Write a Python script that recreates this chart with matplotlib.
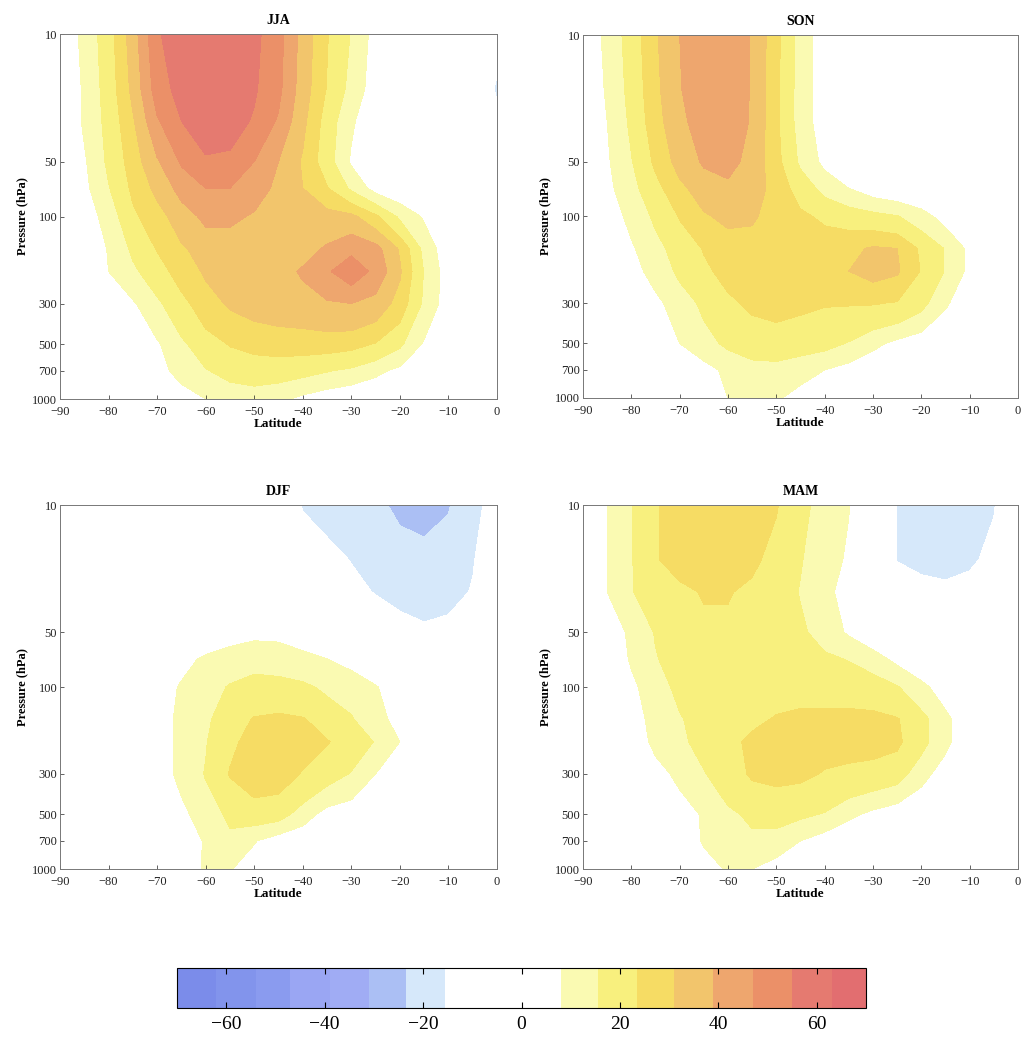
import numpy as np
import matplotlib.pyplot as plt

plt.rcParams['font.family'] = ['Liberation Serif', 'DejaVu Serif']

# grid: latitude (deg) and pressure (hPa)
lat = [-90, -85, -80, -75, -70, -65, -60, -55, -50, -45,
       -40, -35, -30, -25, -20, -15, -10, -5, 0]
pres = [10, 20, 30, 50, 70, 100, 150, 200, 300, 500, 700, 1000]

jja = [
    [2, 10, 20, 35, 54, 60, 62, 62, 57, 50, 36, 24, 15, 5, 2, 0, 0, -3, -12],
    [1, 9, 19, 33, 51, 58, 61, 61, 56, 49, 35, 23, 13, 4, 1, 0, -1, -5, -17],
    [1, 9, 18, 30, 46, 55, 59, 59, 54, 46, 33, 20, 9, 3, 1, 0, 0, -3, -12],
    [0, 7, 17, 27, 38, 48, 54, 53, 47, 39, 30, 19, 7, 3, 1, 0, 0, -1, -4],
    [0, 6, 15, 25, 33, 42, 47, 47, 43, 37, 31, 24, 14, 5, 2, 0, 0, 0, -1],
    [0, 4, 11, 22, 28, 35, 41, 41, 38, 34, 34, 34, 33, 25, 14, 7, 2, 0, 0],
    [0, 2, 8.5, 17, 24, 30, 34, 34, 33, 33, 36, 40, 45, 42, 30, 13, 3, 0, 0],
    [0, 2, 8, 14, 20, 27, 32, 34, 34, 36, 40, 46, 52, 45, 32, 15, 4, 0, 0],
    [0, 0, 2, 7, 14, 21, 28, 32, 34, 35, 36, 38, 39, 36, 28, 14, 4, 0, 0],
    [0, 0, 0, 2, 7, 14, 20, 24, 26, 27, 27, 27, 26, 23, 17, 7, 1, 0, 0],
    [0, 0, 0, 0, 5, 11, 15, 18, 19, 19, 18, 16, 14, 10, 6, 2, 0, 0, 0],
    [0, 0, 0, 0, 0, 4, 8, 11, 12, 10, 6, 3, 1, 0, 0, 0, 0, 0, 0],
]

son = [
    [2, 10, 19, 30, 39, 44, 46, 38, 26, 12, 4, 1, 0, 0, 0, 0, 0, 0, 0],
    [1, 9, 18, 29, 38.5, 44, 46, 38, 25, 12, 4, 1, 0, 0, 0, 0, 0, 0, 0],
    [1, 8, 17, 28, 37, 43, 45, 38, 25, 12, 4, 1, 0, 0, 0, 0, 0, 0, 0],
    [0, 7, 15, 25, 34, 40, 42, 36, 26, 14, 6, 2, 0, 0, 0, 0, 0, 0, 0],
    [0, 6, 13, 21, 29, 35, 37, 35, 28, 20, 13, 8, 4, 2, 1, 0, 0, 0, 0],
    [0, 4, 10, 17, 24, 30, 33, 32, 28, 25, 22, 20, 18, 16, 11, 5, 1, 0, 0],
    [0, 2, 7, 13, 19, 24, 27, 28, 28, 28, 28, 29, 32, 31, 22, 15, 6, 1, 0],
    [0, 1, 5, 11, 17, 22, 26, 28, 28, 28, 29, 31, 34, 32, 23, 15, 6, 1, 0],
    [0, 0, 2, 6, 12, 17, 22, 25, 26, 25, 24, 24, 24, 23, 18, 9, 3, 0, 0],
    [0, 0, 0, 2, 8, 13, 17, 19, 20, 19, 18, 15, 10, 6, 3, 1, 0, 0, 0],
    [0, 0, 0, 0, 0, 5, 10, 13, 13, 11, 8, 5, 2, 0, 0, 0, 0, 0, 0],
    [0, 0, 0, 0, 0, 2, 8, 10, 9, 5, 2, 0, 0, 0, 0, 0, 0, 0, 0],
]

djf = [
    [0, 0, 0, 0, 0, 0, 0, -1, -3, -8, -16, -18, -19, -22, -25, -26, -24, -18, -12],
    [0, 0, 0, 0, 0, 0, 0, -1, -2, -6, -10, -13, -15.8, -18, -20, -21, -20, -16, -10],
    [0, 0, 0, 0, 0, 0, 0, 0, -1, -4, -7, -10, -13, -16, -18, -19, -18, -15, -8],
    [0, 0, 0, 0, 0, 0, 1, 4, 6, 6, 4, 0, -4, -8, -12, -14, -13, -9, -4],
    [0, 0, 0, 0, 1, 5, 9.5, 12, 13, 12, 10, 8, 5, 2, -4, -7, -6, -4, -2],
    [0, 0, 0, 0, 3, 9, 13, 16, 18, 18, 17, 14, 13, 8.5, 4, 0, -1, -1, 0],
    [0, 0, 0, 0, 4, 10, 14, 20, 24, 25, 24, 20, 16, 11, 5, 1, 0, 0, 0],
    [0, 0, 0, 0, 4, 10, 15, 22, 26, 27, 26, 24, 20, 15, 8, 2, 0, 0, 0],
    [0, 0, 0, 0, 4, 10, 16, 24, 27.5, 27, 23, 19, 15, 8, 3, 0, 0, 0, 0],
    [0, 0, 0, 0, 1, 6, 12, 17, 20, 19, 12, 5, 3, 0, 0, 0, 0, 0, 0],
    [0, 0, 0, 0, 0, 2, 9, 14, 8.5, 4, 2, 0, 0, 0, 0, 0, 0, 0, 0],
    [0, 0, 0, 0, 0, 3, 9, 8.5, 4, 0, 0, 0, 0, 0, 0, 0, 0, 0, 0],
]

mam = [
    [0, 8, 15, 23, 26, 28, 28, 26, 24, 18, 12, 8.2, 2, -16, -19, -19, -18, -16, -8],
    [0, 8, 15, 23, 26, 28, 28, 25, 21, 16, 11, 7, 2, -16, -18, -19, -17, -13, -7],
    [0, 8, 15, 20, 22, 24, 24, 22, 20, 15, 10, 5, 1, -6, -12, -13, -12, -9, -5],
    [0, 2, 10, 16, 20, 22, 22, 21, 19, 17, 12, 7, 3, 0, -3, -5, -5, -3, -2],
    [0, 1, 9, 15, 19, 21, 21, 21, 20, 19, 17, 15, 11, 6, 2, 0, 0, 0, 0],
    [0, 0, 6, 13, 17, 19, 20, 21, 21, 21, 21, 21, 20, 16, 10, 4, 1, 0, 0],
    [0, 0, 4, 11, 15, 18, 20, 22, 24, 25, 25, 25, 25, 24, 18, 10, 2, 0, 0],
    [0, 0, 3, 10, 14, 18, 21.5, 25, 26, 26, 26, 26, 26, 25, 18, 10, 2, 0, 0],
    [0, 0, 0, 5, 10, 15, 20, 24.5, 25.5, 25, 23, 22, 21, 19, 11, 4, 0, 0, 0],
    [0, 0, 0, 0, 4, 9, 14, 17, 18, 17, 15, 10, 6, 3, 0, 0, 0, 0, 0],
    [0, 0, 0, 0, 1, 9, 12, 14, 13, 8, 4, 0, 0, 0, 0, 0, 0, 0, 0],
    [0, 0, 0, 0, 0, 4, 9, 8, 4, 0, 0, 0, 0, 0, 0, 0, 0, 0, 0],
]

# shading intervals and their colours
levels = [-70, -62, -54, -47, -39, -31, -23.5, -15.5, 8,
          15.5, 23.5, 31, 39, 47, 55, 63, 70]
colors = ['#7b8cea', '#8294ec', '#8a9bef', '#9aa6f3', '#a0acf4',
          '#abbff4', '#d6e8fa', '#ffffff',
          '#fafab2', '#f8f07e', '#f6dc64', '#f2c56c', '#eea66e',
          '#eb9068', '#e57a70', '#e26e70']

ytick_vals = [10, 50, 100, 300, 500, 700, 1000]

W, H = 1023, 1039
fig = plt.figure(figsize=(W / 100, H / 100), dpi=100)


def box(l, t, r, b):
    return [l / W, 1 - b / H, (r - l) / W, (b - t) / H]


panels = [
    ("JJA", jja, box(60, 34, 497, 399)),
    ("SON", son, box(583, 35, 1018, 398)),
    ("DJF", djf, box(60, 505, 497, 869)),
    ("MAM", mam, box(583, 505, 1018, 869)),
]

for name, field, rect in panels:
    ax = fig.add_axes(rect)
    cs = ax.contourf(lat, pres, np.array(field), levels=levels, colors=colors)
    ax.set_yscale('log')
    ax.set_xlim(-90, 0)
    ax.set_ylim(1000, 10)
    ax.set_yticks(ytick_vals)
    ax.set_yticklabels([str(v) for v in ytick_vals])
    ax.minorticks_off()
    ax.set_xticks(range(-90, 1, 10))
    ax.tick_params(direction='in', length=3, width=0.5, labelsize=9,
                   colors='#222222')
    ax.tick_params(axis='y', pad=2)
    ax.tick_params(axis='x', pad=5)
    for s in ax.spines.values():
        s.set_linewidth(0.7)
        s.set_color('#777777')
    ax.set_title(name, fontsize=10, fontweight='bold', pad=7)
    ax.set_xlabel('Latitude', fontsize=9.5, fontweight='bold', labelpad=0)
    ax.set_ylabel('Pressure (hPa)', fontsize=9, fontweight='bold', labelpad=3)

cax = fig.add_axes(box(177, 968, 866, 1008))
cb = fig.colorbar(cs, cax=cax, orientation='horizontal',
                  spacing='proportional', ticks=range(-60, 61, 20))
cb.ax.tick_params(direction='in', length=4, width=0.8, labelsize=14,
                  top=True, bottom=True, pad=6)
cb.outline.set_linewidth(0.8)

fig.savefig('out.png', dpi=100)
